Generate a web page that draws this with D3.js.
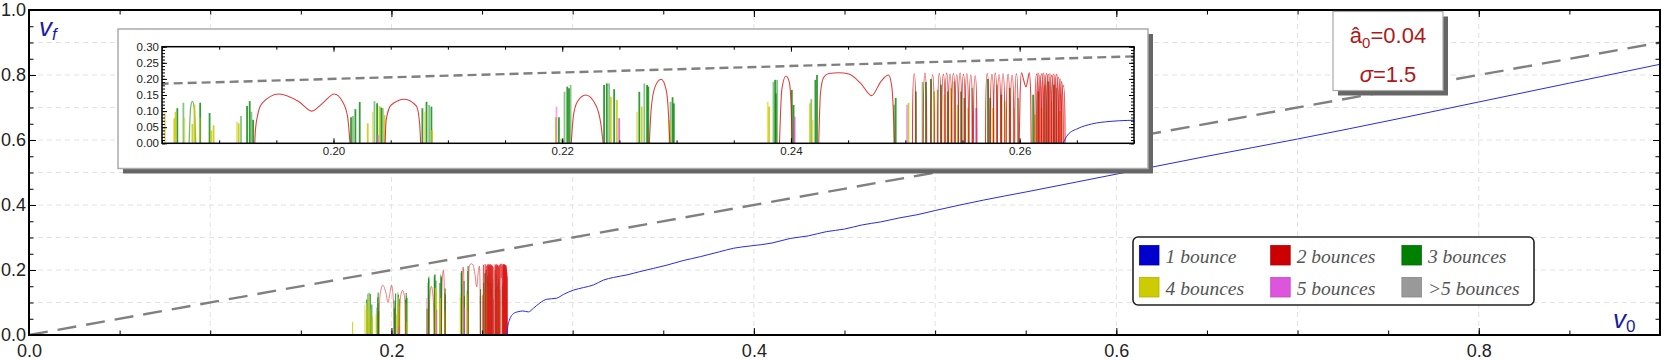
<!DOCTYPE html>
<html>
<head>
<meta charset="utf-8">
<script src="https://cdn.jsdelivr.net/npm/d3@7"></script>
<style>
  body { margin: 0; background: #fff; }
  svg { font-family: "Liberation Sans", Arial, sans-serif; }
</style>
</head>
<body>
<svg id="chart" width="1661" height="360"></svg>
<script>
// ---- data ----
var xMajor = [0, 0.2, 0.4, 0.6, 0.8];
var yMajor = [0, 0.2, 0.4, 0.6, 0.8, 1.0];
var insetXMajor = [0.20, 0.22, 0.24, 0.26];
var insetYMajor = [0, 0.05, 0.10, 0.15, 0.20, 0.25, 0.30];

var diagonal = [[0, 0], [0.9, 0.9]];

// 1 bounce
var blueCurve = [[0.2638,0],[0.2642,0.026],[0.2651,0.046],[0.2663,0.060],[0.2679,0.068],[0.2694,0.071],
  [0.2710,0.073],[0.2725,0.074],[0.2756,0.071],[0.2783,0.082],[0.282,0.099],[0.2857,0.110],[0.291,0.113],
  [0.295,0.125],[0.3004,0.138],[0.306,0.146],[0.3115,0.154],[0.317,0.169],[0.3225,0.177],[0.330,0.185],
  [0.337,0.195],[0.3446,0.205],[0.352,0.215],[0.361,0.229],[0.3704,0.241],[0.381,0.256],[0.3888,0.267],
  [0.398,0.274],[0.41,0.283],[0.42,0.297],[0.43,0.305],[0.44,0.318],[0.45,0.326],[0.46,0.339],[0.47,0.348],
  [0.48,0.360],[0.49,0.370],[0.50,0.383],[0.5266,0.415],[0.55,0.440],[0.6064,0.502],[0.65,0.550],
  [0.70,0.603],[0.757,0.667],[0.80,0.717],[0.85,0.775],[0.9,0.833]];

// 2 bounces: wide arcs and narrow spikes [v0, height]
var redArcs = [
  [[0.19311,0],[0.19317,0.041],[0.19340,0.093],[0.19375,0.124],[0.19522,0.153],[0.19698,0.129],[0.19809,0.100],
   [0.19903,0.124],[0.20006,0.153],[0.20079,0.129],[0.20123,0.083],[0.20144,0]],
  [[0.20451,0],[0.20460,0.072],[0.20504,0.119],[0.20621,0.137],[0.20724,0.116],[0.20753,0.062],[0.20762,0]],
  [[0.22079,0],[0.22097,0.083],[0.22132,0.129],[0.22205,0.150],[0.22293,0.119],[0.22337,0.062],[0.22358,0]],
  [[0.22762,0],[0.22777,0.103],[0.22812,0.176],[0.22865,0.199],[0.22909,0.166],[0.22929,0.093],[0.22941,0]],
  [[0.23900,0],[0.23920,0.166],[0.23956,0.209],[0.23985,0.191],[0.24002,0.114],[0.24011,0]],
  [[0.24243,0],[0.24258,0.155],[0.24287,0.205],[0.24331,0.217],[0.24419,0.219],[0.24507,0.215],[0.24610,0.186],
   [0.24706,0.148],[0.24785,0.191],[0.24853,0.212],[0.24882,0.176],[0.24900,0.062],[0.24906,0]],
  [[0.25996,0],[0.26004,0.15],[0.26016,0.219],[0.26036,0.195],[0.26055,0.175],[0.26070,0.195],[0.26084,0.219],
   [0.26097,0.15],[0.26101,0]]
];
var redSpikes = [[0.25078,0.216],[0.25172,0.218],[0.25239,0.213],[0.25298,0.217],[0.25333,0.214],[0.25362,0.218],
  [0.25391,0.215],[0.25421,0.217],[0.25450,0.213],[0.25479,0.218],[0.25509,0.214],[0.25538,0.216],[0.25573,0.212],
  [0.25611,0.210],[0.25717,0.217],[0.25758,0.214],[0.25787,0.218],[0.25820,0.213],[0.25855,0.216],[0.25899,0.214],
  [0.25934,0.211],[0.25972,0.216],[0.26148,0.215],[0.26162,0.218],[0.26177,0.212],[0.26192,0.216],[0.26206,0.218],
  [0.26221,0.213],[0.26236,0.217],[0.26250,0.214],[0.26265,0.216],[0.26280,0.211],[0.26294,0.215],[0.26309,0.212],
  [0.26324,0.214],[0.26338,0.205],[0.26353,0.200],[0.26367,0.192],[0.26382,0.180]];

// 3 bounces
var greenArc = [[0.18737,0],[0.18750,0.11],[0.18766,0.13],[0.18782,0.11],[0.18795,0]];
var greenSpikes = [[0.18634,0.109],[0.18687,0.126],[0.18834,0.126],[0.18916,0.094],
  [0.19191,0.085],[0.19244,0.116],[0.19267,0.131],[0.19282,0.098],[0.19297,0.073],
  [0.20153,0.081],[0.20170,0.085],[0.20191,0.106],[0.20229,0.128],[0.20358,0.131],[0.20381,0.124],[0.20417,0.111],[0.20431,0.109],
  [0.20777,0.109],[0.20813,0.129],[0.20836,0.119],[0.20856,0.114],
  [0.21971,0.081],[0.22020,0.160],[0.22044,0.176],[0.22059,0.171],[0.22073,0.181],
  [0.22366,0.181],[0.22390,0.186],[0.22410,0.186],[0.22454,0.168],
  [0.22674,0.160],[0.22718,0.186],[0.22742,0.181],[0.22753,0.176],
  [0.22947,0.129],[0.22965,0.143],[0.22976,0.124],
  [0.23847,0.191],[0.23862,0.197],[0.23868,0.155],[0.23879,0.197],
  [0.24008,0.166],[0.24023,0.119],
  [0.24178,0.137],[0.24214,0.197],[0.24228,0.212],
  [0.24902,0.120],[0.24916,0.141],[0.25092,0.161],[0.25151,0.190],[0.25180,0.190],[0.25224,0.200],[0.25283,0.166],
  [0.25312,0.182],[0.25371,0.161],[0.25429,0.192],[0.25488,0.161],[0.25517,0.141],[0.25585,0.172],[0.25723,0.200],
  [0.25743,0.141],[0.25802,0.182],[0.25840,0.151],[0.25913,0.172],[0.25986,0.141],[0.26118,0.151],[0.26162,0.161],
  [0.26221,0.182],[0.26250,0.192],[0.26300,0.182],[0.26323,0.172]];

// 4 bounces
var yellowSpikes = [[0.1786,0.041],[0.18526,0.093],[0.18608,0.078],[0.18619,0.098],[0.18696,0.080],[0.18766,0.060],
  [0.18784,0.120],[0.18830,0.080],[0.18931,0.040],[0.18951,0.056],[0.19156,0.067],[0.19171,0.062],
  [0.20299,0.062],[0.20343,0.098],[0.20402,0.116],[0.20446,0.088],[0.20798,0.098],[0.20862,0.041],
  [0.21944,0.081],[0.21985,0.015],[0.22425,0.145],[0.22478,0.135],[0.22654,0.098],[0.22695,0.114],
  [0.22938,0.072],[0.23797,0.129],[0.23809,0.114],[0.24167,0.124],[0.24190,0.072],
  [0.25028,0.125],[0.25253,0.161],[0.25341,0.151],[0.25400,0.172],[0.25459,0.120],[0.25547,0.110],
  [0.25767,0.110],[0.25869,0.130],[0.25948,0.110],[0.26133,0.089],[0.26192,0.110],[0.26280,0.130],[0.26353,0.100]];

// 5 bounces, >5 bounces
var pinkSpikes = [[0.20387,0.025],[0.21950,0.114],[0.22498,0.078],[0.24032,0.083],[0.25015,0.120],[0.25620,0.110]];
var graySpikes = [[0.22000,0.013]];

var legendLabels = ['1 bounce', '2 bounces', '3 bounces', '4 bounces', '5 bounces', '>5 bounces'];
var legendColors = ['#0000cc', '#cc0000', '#008000', '#cccc00', '#dd55dd', '#999999'];

var a0 = '0.04';
var sigma = '1.5';

// ---- drawing ----
var svg = d3.select('#chart');
var defs = svg.append('defs');

var x = d3.scaleLinear().domain([0, 0.9]).range([29, 1660]);
var y = d3.scaleLinear().domain([0, 1]).range([335, 10]);

var ix = d3.scaleLinear().domain([0.185, 0.27]).range([162, 1134]);
var iy = d3.scaleLinear().domain([0, 0.3]).range([143.3, 46.7]);

var colors = { blue: '#2a2ae0', red: '#dd1a1a', green: '#128a12', yellow: '#c9c900', pink: '#dd55dd', gray: '#888' };

function line(sx, sy, curve) {
  return d3.line().x(function(d) { return sx(d[0]); }).y(function(d) { return sy(d[1]); }).curve(curve || d3.curveLinear);
}

function arch(d, hw, sx, sy) {
  var top = sy(d[1] / 0.75);
  return 'M' + sx(d[0] - hw) + ',' + sy(0) + ' C' + sx(d[0] - hw) + ',' + top + ' ' +
    sx(d[0] + hw) + ',' + top + ' ' + sx(d[0] + hw) + ',' + sy(0);
}

// draws every bounce series into g using the given scales
function drawSeries(g, sx, sy, sw, dash) {
  g.append('path')
    .attr('d', line(sx, sy)(diagonal))
    .attr('fill', 'none').attr('stroke', '#808080')
    .attr('stroke-width', 2.4).attr('stroke-dasharray', dash);

  g.append('path')
    .attr('d', line(sx, sy, d3.curveMonotoneX)(greenArc))
    .attr('fill', 'none').attr('stroke', colors.green).attr('stroke-width', sw * 0.7).attr('opacity', 0.6);

  var spikeSets = [[greenSpikes, colors.green], [yellowSpikes, colors.yellow], [pinkSpikes, colors.pink], [graySpikes, colors.gray]];
  spikeSets.forEach(function(s) {
    g.selectAll(null).data(s[0]).enter().append('line')
      .attr('x1', function(d) { return sx(d[0]); })
      .attr('x2', function(d) { return sx(d[0]); })
      .attr('y1', sy(0))
      .attr('y2', function(d) { return sy(d[1]); })
      .attr('stroke', s[1]).attr('stroke-width', sw)
      .attr('opacity', function(d, i) { return i % 3 == 1 ? 0.5 : 0.85; });
  });

  g.selectAll('.redarc').data(redArcs).enter().append('path')
    .attr('d', function(d) { return line(sx, sy, d3.curveMonotoneX)(d); })
    .attr('fill', 'none').attr('stroke', colors.red).attr('stroke-width', sw * 0.6).attr('opacity', 0.85);

  g.selectAll('.redspike').data(redSpikes).enter().append('path')
    .attr('d', function(d) { return arch(d, 0.00015, sx, sy); })
    .attr('fill', 'none').attr('stroke', colors.red).attr('stroke-width', sw * 0.6).attr('opacity', 0.85);

  g.append('path')
    .attr('d', line(sx, sy, d3.curveMonotoneX)(blueCurve))
    .attr('fill', 'none').attr('stroke', colors.blue).attr('stroke-width', 1);
}

function drawAxes(g, sx, sy, xMaj, xMin, yMaj, yMin, fx, fy, major, minor, fontSize, padX, padY) {
  var x0 = sx.range()[0], x1 = sx.range()[1], y0 = sy.range()[0], y1 = sy.range()[1];
  function clean(a) {
    a.select('.domain').remove();
    a.attr('font-size', fontSize).attr('font-family', '"Liberation Sans", Arial, sans-serif');
    a.selectAll('text').attr('fill', '#222');
  }
  g.append('g').attr('transform', 'translate(0,' + y0 + ')')
    .call(d3.axisBottom(sx).tickValues(xMin).tickSize(-minor).tickFormat('')).call(clean);
  g.append('g').attr('transform', 'translate(0,' + y0 + ')')
    .call(d3.axisBottom(sx).tickValues(xMaj).tickSize(-major).tickPadding(padX).tickFormat(fx)).call(clean);
  g.append('g').attr('transform', 'translate(0,' + y1 + ')')
    .call(d3.axisTop(sx).tickValues(xMin).tickSize(-minor).tickFormat('')).call(clean);
  g.append('g').attr('transform', 'translate(0,' + y1 + ')')
    .call(d3.axisTop(sx).tickValues(xMaj).tickSize(-major).tickFormat('')).call(clean);
  g.append('g').attr('transform', 'translate(' + x0 + ',0)')
    .call(d3.axisLeft(sy).tickValues(yMin).tickSize(-minor).tickFormat('')).call(clean);
  g.append('g').attr('transform', 'translate(' + x0 + ',0)')
    .call(d3.axisLeft(sy).tickValues(yMaj).tickSize(-major).tickPadding(padY).tickFormat(fy)).call(clean);
  g.append('g').attr('transform', 'translate(' + x1 + ',0)')
    .call(d3.axisRight(sy).tickValues(yMin).tickSize(-minor).tickFormat('')).call(clean);
  g.append('g').attr('transform', 'translate(' + x1 + ',0)')
    .call(d3.axisRight(sy).tickValues(yMaj).tickSize(-major).tickFormat('')).call(clean);
}

// main plot -------------------------------------------------------------
defs.append('clipPath').attr('id', 'mainClip').append('rect')
  .attr('x', x(0)).attr('y', y(1)).attr('width', x(0.9) - x(0)).attr('height', y(0) - y(1));

var grid = svg.append('g');
grid.selectAll(null).data(d3.range(0.1, 0.85, 0.1)).enter().append('line')
  .attr('x1', function(d) { return x(d); }).attr('x2', function(d) { return x(d); })
  .attr('y1', y(0)).attr('y2', y(1))
  .attr('stroke', '#e2e2e2').attr('stroke-dasharray', '5,4');
grid.selectAll(null).data(d3.range(0.1, 0.95, 0.1)).enter().append('line')
  .attr('x1', x(0)).attr('x2', x(0.9))
  .attr('y1', function(d) { return y(d); }).attr('y2', function(d) { return y(d); })
  .attr('stroke', '#e2e2e2').attr('stroke-dasharray', '5,4');

var main = svg.append('g').attr('clip-path', 'url(#mainClip)');
drawSeries(main, x, y, 1.1, '19,10');

drawAxes(svg, x, y, xMajor, d3.range(0, 0.901, 0.05), yMajor, d3.range(0, 1.001, 0.05),
  d3.format('.1f'), d3.format('.1f'), 7, 4.5, 18, 9, 3);
svg.append('rect')
  .attr('x', x(0)).attr('y', y(1)).attr('width', x(0.9) - x(0)).attr('height', y(0) - y(1))
  .attr('fill', 'none').attr('stroke', '#000').attr('stroke-width', 2);

// inset -----------------------------------------------------------------
svg.append('rect').attr('x', 123).attr('y', 34).attr('width', 1030).attr('height', 139.5).attr('fill', '#666');
svg.append('rect').attr('x', 118).attr('y', 29).attr('width', 1030).attr('height', 139.5)
  .attr('fill', '#fff').attr('stroke', '#aaa').attr('stroke-width', 1.5);

defs.append('clipPath').attr('id', 'insetClip').append('rect')
  .attr('x', ix.range()[0]).attr('y', iy.range()[1])
  .attr('width', ix.range()[1] - ix.range()[0]).attr('height', iy.range()[0] - iy.range()[1]);

var inset = svg.append('g').attr('clip-path', 'url(#insetClip)');
drawSeries(inset, ix, iy, 1.8, '9,5');

drawAxes(svg, ix, iy, insetXMajor, d3.range(0.185, 0.2701, 0.005), insetYMajor, d3.range(0, 0.3001, 0.01),
  d3.format('.2f'), d3.format('.2f'), 5, 3, 11.5, 4, 3);
svg.append('rect')
  .attr('x', ix.range()[0]).attr('y', iy.range()[1])
  .attr('width', ix.range()[1] - ix.range()[0]).attr('height', iy.range()[0] - iy.range()[1])
  .attr('fill', 'none').attr('stroke', '#000').attr('stroke-width', 1.5);

// parameter box ---------------------------------------------------------
svg.append('rect').attr('x', 1338).attr('y', 16.5).attr('width', 110).attr('height', 79).attr('fill', '#666');
svg.append('rect').attr('x', 1333).attr('y', 11.5).attr('width', 110).attr('height', 79)
  .attr('fill', '#fff').attr('stroke', '#aaa').attr('stroke-width', 1.2);
var p1 = svg.append('text').attr('x', 1388).attr('y', 43).attr('text-anchor', 'middle')
  .attr('font-size', 22).attr('fill', '#b01818');
p1.append('tspan').text('\u00e2');
p1.append('tspan').attr('font-size', 15).attr('dy', 5).text('0');
p1.append('tspan').attr('dy', -5).text('=' + a0);
var p2 = svg.append('text').attr('x', 1388).attr('y', 82).attr('text-anchor', 'middle')
  .attr('font-size', 22).attr('fill', '#b01818');
p2.append('tspan').attr('font-style', 'italic').text('\u03c3');
p2.append('tspan').text('=' + sigma);

// legend ----------------------------------------------------------------
svg.append('rect').attr('x', 1133).attr('y', 237).attr('width', 401).attr('height', 68).attr('rx', 5)
  .attr('fill', '#fff').attr('stroke', '#222').attr('stroke-width', 1.6);
var items = svg.selectAll('.legend').data(legendLabels).enter().append('g')
  .attr('transform', function(d, i) { return 'translate(' + (1139.5 + (i % 3) * 131.2) + ',' + (245.5 + Math.floor(i / 3) * 32) + ')'; });
items.append('rect').attr('width', 19.5).attr('height', 19.5)
  .attr('fill', function(d, i) { return legendColors[i]; })
  .attr('stroke', function(d, i) { return d3.color(legendColors[i]).darker(0.4); }).attr('stroke-width', 0.8);
items.append('text').attr('x', 26).attr('y', 17).text(function(d) { return d; })
  .style('font-family', '"Liberation Serif", "Times New Roman", serif').style('font-style', 'italic')
  .attr('font-size', 19.5).attr('fill', '#555');

// axis labels -----------------------------------------------------------
var vf = svg.append('text').attr('x', 39).attr('y', 36).attr('fill', '#1c1ca0').attr('font-style', 'italic');
vf.append('tspan').attr('font-size', 26).text('v');
vf.append('tspan').attr('font-size', 17).attr('dy', 4).text('f');
var v0 = svg.append('text').attr('x', 1613).attr('y', 328).attr('fill', '#1c1ca0');
v0.append('tspan').attr('font-size', 26).attr('font-style', 'italic').text('v');
v0.append('tspan').attr('font-size', 17).attr('dy', 4).text('0');
</script>
</body>
</html>
